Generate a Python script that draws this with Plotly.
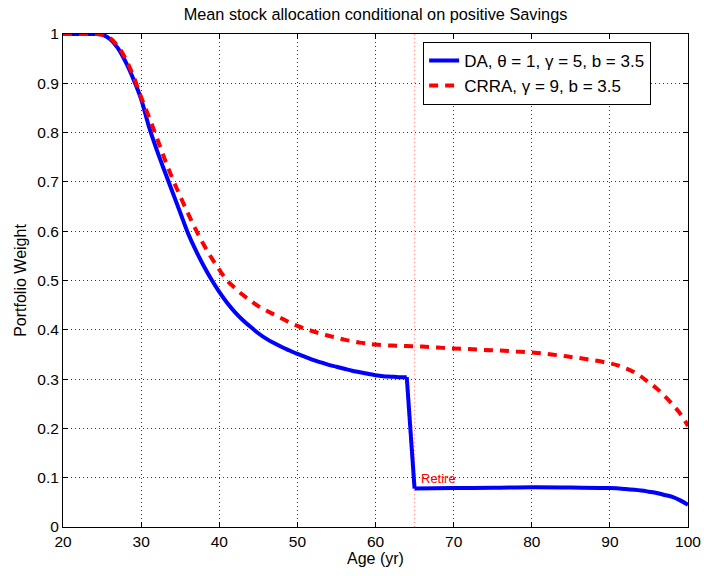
import plotly.graph_objects as go

# Data
da_pre_age = [20, 21, 22, 23, 24, 25, 26, 27, 28, 29, 30, 31, 32, 33, 34, 35, 36, 37, 38, 39,
              40, 41, 42, 43, 44, 45, 46, 47, 48, 49, 50, 51, 52, 53, 54, 55, 56, 57, 58, 59,
              60, 61, 62, 63, 64]
da_pre_w = [1.0, 1.0, 1.0, 1.0, 1.0, 0.999, 0.99, 0.972, 0.944, 0.909, 0.868, 0.812, 0.765,
            0.722, 0.68, 0.638, 0.596, 0.561, 0.53, 0.502, 0.477, 0.455, 0.436, 0.42, 0.406,
            0.393, 0.382, 0.373, 0.365, 0.358, 0.351, 0.345, 0.339, 0.334, 0.329, 0.325, 0.321,
            0.317, 0.314, 0.311, 0.308, 0.306, 0.305, 0.304, 0.304]
da_post_age = [65, 70, 75, 80, 85, 90, 92, 94, 95, 96, 97, 98, 99, 100]
da_post_w = [0.078, 0.079, 0.0795, 0.0805, 0.080, 0.079, 0.077, 0.074, 0.0716, 0.069, 0.065,
             0.061, 0.054, 0.045]

crra_age = [20, 21, 22, 23, 24, 25, 26, 27, 28, 29, 30, 31, 32, 33, 34, 35, 36, 37, 38, 39,
            40, 41, 42, 43, 44, 45, 46, 47, 48, 49, 50, 51, 52, 53, 54, 55, 56, 57, 58, 59,
            60, 62, 64, 66, 68, 70, 72, 74, 76, 78, 80, 82, 84, 85, 86, 88, 90, 91, 92, 93,
            94, 95, 96, 97, 98, 99, 100]
crra_w = [1.0, 1.0, 1.0, 1.0, 1.0, 0.999, 0.992, 0.976, 0.95, 0.915, 0.872, 0.832, 0.79, 0.747,
          0.707, 0.671, 0.636, 0.603, 0.573, 0.546, 0.522, 0.50, 0.485, 0.471, 0.459, 0.448,
          0.439, 0.431, 0.423, 0.415, 0.408, 0.402, 0.397, 0.392, 0.388, 0.384, 0.38, 0.377,
          0.374, 0.372, 0.37, 0.368, 0.367, 0.366, 0.364, 0.362, 0.361, 0.359, 0.358, 0.356,
          0.354, 0.351, 0.347, 0.345, 0.343, 0.338, 0.332, 0.328, 0.322, 0.315, 0.305, 0.293,
          0.281, 0.266, 0.249, 0.23, 0.205]

retire_age = 65
retire_label = "Retire"
da_name = "DA, θ = 1, γ = 5, b = 3.5"
crra_name = "CRRA, γ = 9, b = 3.5"
x_ticks = [20, 30, 40, 50, 60, 70, 80, 90, 100]
y_ticks = [0, 0.1, 0.2, 0.3, 0.4, 0.5, 0.6, 0.7, 0.8, 0.9, 1]
y_tick_text = ["0", "0.1", "0.2", "0.3", "0.4", "0.5", "0.6", "0.7", "0.8", "0.9", "1"]

FONT = "Liberation Sans, Arial, Helvetica, sans-serif"
BLUE = "#0000ff"
RED = "#ff0000"

fig = go.Figure()
fig.add_trace(go.Scatter(x=da_pre_age, y=da_pre_w, mode="lines", name=da_name,
                         legendgroup="da", line=dict(color=BLUE, width=4, shape="spline",
                                                     smoothing=1.0)))
fig.add_trace(go.Scatter(x=[da_pre_age[-1], da_post_age[0]], y=[da_pre_w[-1], da_post_w[0]],
                         mode="lines", legendgroup="da", showlegend=False,
                         line=dict(color=BLUE, width=4)))
fig.add_trace(go.Scatter(x=da_post_age, y=da_post_w, mode="lines", legendgroup="da",
                         showlegend=False, line=dict(color=BLUE, width=4, shape="spline",
                                                     smoothing=1.0)))
fig.add_trace(go.Scatter(x=crra_age, y=crra_w, mode="lines", name=crra_name,
                         line=dict(color=RED, width=4, dash="9px,7px", shape="spline",
                                   smoothing=1.0)))

fig.add_shape(type="line", xref="x", yref="y", x0=retire_age, x1=retire_age, y0=0, y1=1,
              line=dict(color="rgba(255,80,80,0.7)", width=1, dash="1px,3px"), layer="below")
fig.add_annotation(x=retire_age + 0.6, y=0.099, xref="x", yref="y", text=retire_label,
                   showarrow=False, xanchor="left", yanchor="middle",
                   font=dict(color=RED, size=13, family=FONT))

axis_common = dict(showline=True, linecolor="black", linewidth=1, mirror="ticks",
                   ticks="inside", ticklen=5, tickcolor="black", showgrid=True,
                   gridcolor="#333333", gridwidth=1, griddash="1px,3px", zeroline=False,
                   automargin=False,
                   tickfont=dict(size=15.5, color="black", family=FONT))

fig.update_xaxes(range=[20, 100], tickvals=x_ticks, title=dict(text="Age (yr)", standoff=2,
                 font=dict(size=16, color="black", family=FONT)), **axis_common)
fig.update_yaxes(range=[0, 1], tickvals=y_ticks, ticktext=y_tick_text,
                 title=dict(text="Portfolio Weight", standoff=6,
                            font=dict(size=16, color="black", family=FONT)), **axis_common)

fig.update_layout(
    width=704, height=576,
    margin=dict(l=63, r=16, t=34, b=49),
    paper_bgcolor="white", plot_bgcolor="white",
    font=dict(family=FONT, color="black"),
    title=dict(text="Mean stock allocation conditional on positive Savings", x=0.5,
               xref="paper", xanchor="center", y=0.976, yanchor="middle",
               font=dict(size=16.3, color="black", family=FONT)),
    legend=dict(x=0.941, y=0.984, xanchor="right", yanchor="top", bgcolor="white",
                bordercolor="black", borderwidth=1, font=dict(size=17, color="black", family=FONT),
                itemwidth=30, tracegroupgap=0),
    showlegend=True,
)

fig.write_html("out.html")
